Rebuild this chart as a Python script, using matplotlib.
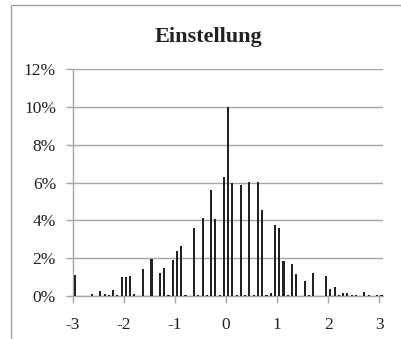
import matplotlib
matplotlib.use("Agg")
import matplotlib.pyplot as plt
from matplotlib.patches import Rectangle
from matplotlib.ticker import FuncFormatter

title = "Einstellung"
x_pos = [-2.958, -2.625, -2.458, -2.375, -2.292, -2.208, -2.125, -2.042, -1.958, -1.875,
         -1.792, -1.625, -1.458, -1.292, -1.208, -1.125, -1.042, -0.958, -0.875, -0.792,
         -0.625, -0.542, -0.458, -0.375, -0.292, -0.208, -0.125, -0.042, 0.042, 0.125,
         0.208, 0.292, 0.375, 0.458, 0.542, 0.625, 0.708, 0.792, 0.875, 0.958,
         1.042, 1.125, 1.208, 1.292, 1.375, 1.542, 1.625, 1.708, 1.958, 2.042,
         2.125, 2.208, 2.292, 2.375, 2.458, 2.542, 2.708, 2.792, 2.958, 3.042]
share = [1.10, 0.10, 0.27, 0.10, 0.05, 0.30, 0.05, 1.00, 1.00, 1.06,
         0.10, 1.42, 1.98, 1.24, 1.50, 0.05, 1.90, 2.38, 2.65, 0.05,
         3.62, 0.05, 4.15, 0.05, 5.60, 4.05, 0.05, 6.30, 10.00, 5.95,
         0.05, 5.87, 0.05, 6.04, 0.05, 6.04, 4.56, 0.05, 0.16, 3.73,
         3.60, 1.83, 0.05, 1.69, 1.17, 0.82, 0.05, 1.24, 1.08, 0.37,
         0.46, 0.05, 0.18, 0.18, 0.05, 0.05, 0.20, 0.05, 0.05, 0.05]
x_ticks = [-3, -2, -1, 0, 1, 2, 3]
y_ticks = [0, 2, 4, 6, 8, 10, 12]

plt.rcParams['font.family'] = ['Liberation Serif', 'DejaVu Serif']

fig = plt.figure(figsize=(4.02, 3.39), dpi=100)
ax = fig.add_axes([0.1808, 0.1268, 0.7719, 0.6696])

grid_c = '#a6a6a6'
ax.bar(x_pos, share, width=0.042, color='#222222', linewidth=0, zorder=3)

ax.set_xlim(-3, 3.072)
ax.set_ylim(0, 12)
ax.set_xticks(x_ticks)
ax.set_yticks(y_ticks)
ax.yaxis.set_major_formatter(FuncFormatter(lambda v, p: f"{int(v)}%"))
ax.set_xticklabels([str(t) for t in x_ticks])
ax.grid(axis='y', color=grid_c, linewidth=1.0, zorder=0)
ax.set_axisbelow(True)
for s in ['top', 'right']:
    ax.spines[s].set_visible(False)
for s in ['left', 'bottom']:
    ax.spines[s].set_color(grid_c)
    ax.spines[s].set_linewidth(1.0)
ax.tick_params(axis='both', colors=grid_c, labelcolor='#222222', labelsize=12.5,
               length=5, width=1.0, direction='out')
ax.tick_params(axis='x', pad=10)
ax.tick_params(axis='y', pad=7)

fig.text(208.5/402, 0.89, title, ha='center', va='center', fontsize=16,
         fontweight='bold', color='#222222')

fig.add_artist(Rectangle((11/402, -0.05), 1.2, 1 - 5/339 + 0.05,
                         transform=fig.transFigure, fill=False,
                         edgecolor='#a0a0a0', linewidth=1.0))

fig.savefig('out.png', dpi=100)
